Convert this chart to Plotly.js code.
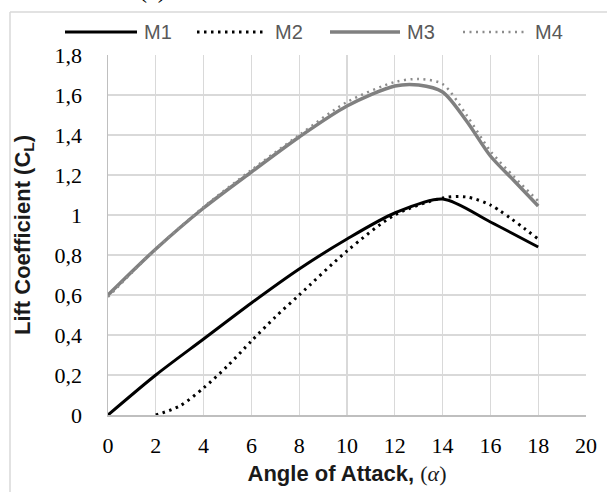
<!DOCTYPE html>
<html>
<head>
<meta charset="utf-8">
<script src="https://cdn.plot.ly/plotly-3.0.1.min.js"></script>
<style>html,body{margin:0;padding:0;background:#fff;}#chart{width:607px;height:492px;}</style>
</head>
<body>
<div id="chart"></div>
<script>
// Data
const m1X = [0, 2, 4, 6, 8, 10, 12, 14, 16, 18];
const m1Y = [0, 0.2, 0.38, 0.56, 0.73, 0.88, 1.01, 1.08, 0.965, 0.84];

const m2X = [2, 3, 4, 5, 6, 7, 8, 10, 12, 14, 15, 16, 18];
const m2Y = [0, 0.045, 0.135, 0.245, 0.37, 0.49, 0.6, 0.82, 1.0, 1.085, 1.09, 1.05, 0.88];

const m3X = [0, 2, 4, 6, 8, 10, 12, 13, 14, 15, 16, 17, 18];
const m3Y = [0.6, 0.83, 1.035, 1.215, 1.39, 1.545, 1.645, 1.65, 1.615, 1.47, 1.295, 1.17, 1.045];

const m4X = [0, 2, 4, 6, 8, 10, 12, 13, 14, 15, 16, 17, 18];
const m4Y = [0.59, 0.83, 1.04, 1.225, 1.4, 1.565, 1.665, 1.68, 1.655, 1.5, 1.32, 1.19, 1.07];

const seriesNames = ['M1', 'M2', 'M3', 'M4'];
const xTicks = [0, 2, 4, 6, 8, 10, 12, 14, 16, 18, 20];
const yTicks = [0, 0.2, 0.4, 0.6, 0.8, 1, 1.2, 1.4, 1.6, 1.8];
const yTickText = ['0', '0,2', '0,4', '0,6', '0,8', '1', '1,2', '1,4', '1,6', '1,8'];

const styles = [
  {color: '#000000', width: 3, dash: 'solid'},
  {color: '#000000', width: 3, dash: '2.5px,4.5px'},
  {color: '#808080', width: 3.5, dash: 'solid'},
  {color: '#8c8c8c', width: 2.5, dash: '2px,4.5px'}
];
const xs = [m1X, m2X, m3X, m4X];
const ys = [m1Y, m2Y, m3Y, m4Y];

const order = [2, 3, 0, 1];
const traces = order.map(i => ({
  x: xs[i], y: ys[i], name: seriesNames[i], type: 'scatter', mode: 'lines',
  line: {color: styles[i].color, width: styles[i].width, dash: styles[i].dash, shape: 'spline', smoothing: 0.8},
  showlegend: false, hoverinfo: 'skip'
}));

// plot area pixel geometry
const L = 108, R = 586, T = 55, B = 415, W = 607, H = 492;
const px = v => (v - L) / (R - L);
const py = v => (B - v) / (B - T);

// manual legend (line samples + labels)
const legX = [[65, 137], [197, 265], [330, 400], [463, 528]];
const legTextX = [142, 273, 405, 533];
const legY = 32;
const shapes = [];
const annotations = [];
for (let i = 0; i < 4; i++) {
  shapes.push({type: 'line', xref: 'paper', yref: 'paper',
    x0: px(legX[i][0]), x1: px(legX[i][1]), y0: py(legY), y1: py(legY),
    line: {color: styles[i].color, width: styles[i].width, dash: styles[i].dash}});
  annotations.push({xref: 'paper', yref: 'paper', x: px(legTextX[i]), y: py(legY),
    xanchor: 'left', yanchor: 'middle', text: seriesNames[i], showarrow: false,
    font: {family: 'Liberation Sans, Arial, sans-serif', size: 20, color: '#595959'}});
}
// chart area border (visible top and left edges)
shapes.push({type: 'line', xref: 'paper', yref: 'paper', x0: px(10), x1: px(W + 5), y0: py(12), y1: py(12), line: {color: '#d9d9d9', width: 1.5}});
shapes.push({type: 'line', xref: 'paper', yref: 'paper', x0: px(10), x1: px(10), y0: py(12), y1: py(H + 5), line: {color: '#d9d9d9', width: 1.5}});
// caption cut at the top edge, as in the reference
annotations.push({xref: 'paper', yref: 'paper', x: px(152), y: py(5), xanchor: 'center', yanchor: 'bottom',
  text: '(a)', showarrow: false, font: {family: 'Liberation Serif, serif', size: 24, color: '#000'}});

const layout = {
  width: W, height: H,
  margin: {l: L, r: W - R, t: T, b: H - B, pad: 0},
  paper_bgcolor: '#ffffff', plot_bgcolor: '#ffffff',
  showlegend: false,
  xaxis: {
    range: [0, 20], tickvals: xTicks, ticktext: xTicks.map(String),
    showgrid: true, gridcolor: '#d9d9d9', gridwidth: 1.3,
    showline: true, linecolor: '#bfbfbf', linewidth: 1.5, zeroline: false,
    ticks: '', ticklabelstandoff: 10,
    tickfont: {family: 'Liberation Serif, Times New Roman, serif', size: 22, color: '#000'},
    title: {text: "Angle of Attack, <span style='font-family:Liberation Serif;font-weight:normal'>(<i>α</i>)</span>",
      font: {family: 'Liberation Sans, Arial, sans-serif', size: 22, color: '#1a1a1a', weight: 'bold'}, standoff: 8},
    fixedrange: true
  },
  yaxis: {
    range: [0, 1.8], tickvals: yTicks, ticktext: yTickText,
    showgrid: true, gridcolor: '#d9d9d9', gridwidth: 1.3,
    showline: true, linecolor: '#bfbfbf', linewidth: 1.5, zeroline: false,
    ticks: '', ticklabelstandoff: 20,
    tickfont: {family: 'Liberation Serif, Times New Roman, serif', size: 22, color: '#000'},
    title: {text: 'Lift Coefficient (C<sub>L</sub>)',
      font: {family: 'Liberation Sans, Arial, sans-serif', size: 22, color: '#1a1a1a', weight: 'bold'}, standoff: 18},
    fixedrange: true
  },
  shapes: shapes,
  annotations: annotations
};

Plotly.newPlot('chart', traces, layout, {displayModeBar: false, staticPlot: true});
</script>
</body>
</html>
